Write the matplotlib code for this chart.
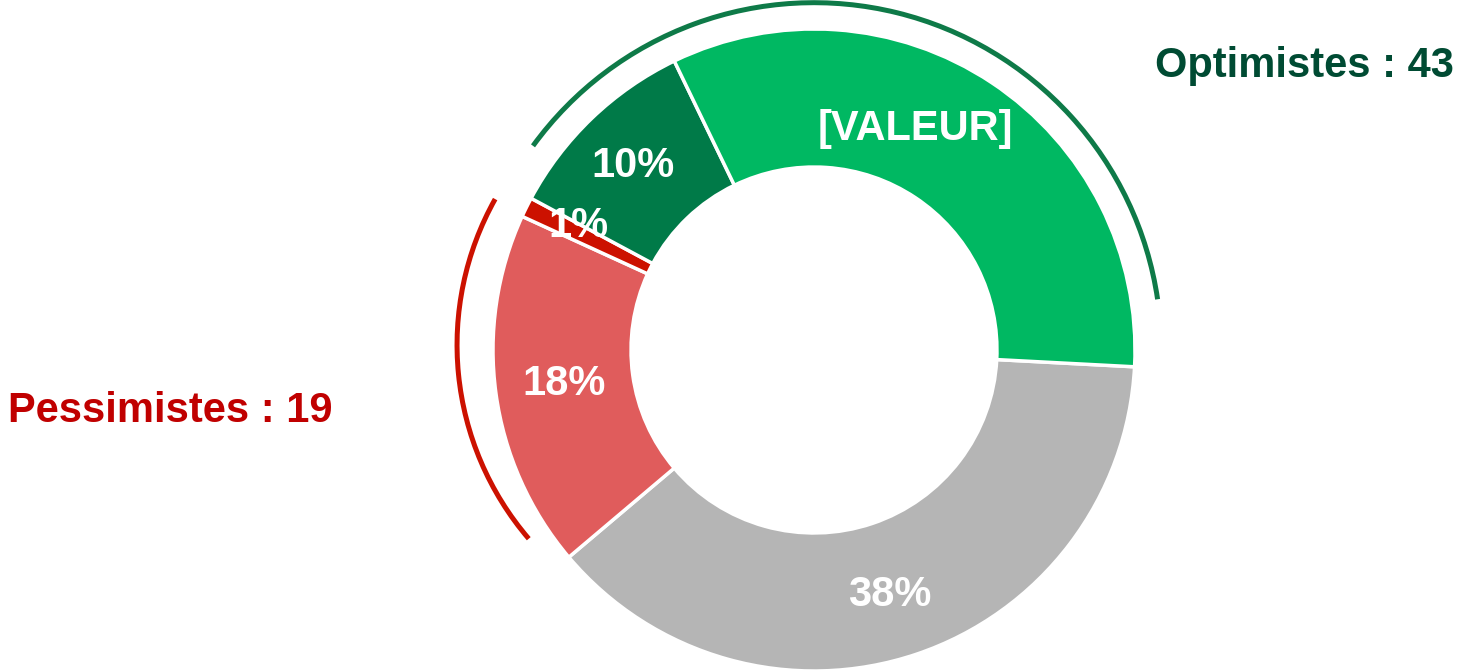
import numpy as np
import matplotlib.pyplot as plt
from matplotlib.patches import Arc

plt.rcParams['font.family'] = ['Liberation Sans', 'DejaVu Sans']

# donut data, clockwise from 3 o'clock
categories = ['Neutres', 'Plutôt pessimistes', 'Très pessimistes', 'Très optimistes', 'Plutôt optimistes']
values = [38, 18, 1, 10, 33]
colors = ['#B5B5B5', '#E05C5C', '#CC1100', '#007A48', '#00B862']
pct_labels = ['38%', '18%', '1%', '10%', '[VALEUR]']

group_labels = ['Optimistes : 43', 'Pessimistes : 19']
group_colors = ['#004B33', '#C00000']

W, H = 1460, 670
cx, cy, R = 814, 350, 321  # pixel geometry of the donut

fig = plt.figure(figsize=(W / 100, H / 100), dpi=100)
ax = fig.add_axes([0, 0, 1, 1])

wedges, _ = ax.pie(values, colors=colors, startangle=-3, counterclock=False,
                   radius=1.0, wedgeprops=dict(width=0.43, edgecolor='white', linewidth=2.5))

ax.set_xlim(-cx / R, (W - cx) / R)
ax.set_ylim((cy - H) / R, cy / R)
ax.set_aspect('equal', adjustable='datalim')
ax.axis('off')

# percent labels at ring middle
offsets = {'1%': (-0.03, 0.038), '[VALEUR]': (-0.12, 0.035),
           '10%': (-0.02, 0.006), '38%': (-0.015, -0.019)}
for w, lab in zip(wedges, pct_labels):
    mid = np.deg2rad((w.theta1 + w.theta2) / 2)
    x, y = 0.785 * np.cos(mid), 0.785 * np.sin(mid)
    dx, dy = offsets.get(lab, (0, 0))
    ax.text(x + dx, y + dy, lab, ha='center', va='center', color='white',
            fontsize=30, fontweight='bold')

# bracket arcs around the two groups
ax.add_patch(Arc((0, 0), 2 * 1.082, 2 * 1.082, theta1=8.4, theta2=144.0,
                 color='#0E7A48', linewidth=3.6, capstyle='butt'))
ax.add_patch(Arc((-0.184, 0.016), 2 * 0.928, 2 * 0.928, theta1=150.7, theta2=220.6,
                 color='#CC1100', linewidth=3.6, capstyle='butt'))

fig.text(1155 / W, 1 - 66 / H, group_labels[0], ha='left', va='center',
         color=group_colors[0], fontsize=30, fontweight='bold')
fig.text(8 / W, 1 - 411 / H, group_labels[1], ha='left', va='center',
         color=group_colors[1], fontsize=30, fontweight='bold')

fig.savefig('out.png', dpi=100)
